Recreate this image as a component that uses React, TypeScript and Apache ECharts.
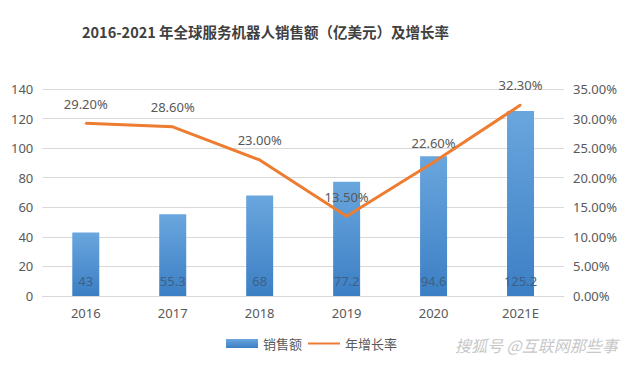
import React, { useEffect, useRef } from "react";
import * as echarts from "echarts";

const categories = ["2016", "2017", "2018", "2019", "2020", "2021E"];
const salesValues = [43, 55.3, 68, 77.2, 94.6, 125.2];
const growthRates = [29.2, 28.6, 23.0, 13.5, 22.6, 32.3];
const titleText = "2016-2021 年全球服务机器人销售额（亿美元）及增长率";
const salesName = "销售额";
const growthName = "年增长率";
const watermark = "搜狐号 @互联网那些事";

export default function App() {
  const ref = useRef<HTMLDivElement>(null);
  useEffect(() => {
    if (!ref.current) return;
    const chart = echarts.init(ref.current, undefined, { renderer: "svg" });
    const font = "'Noto Sans', 'Noto Sans CJK SC', sans-serif";
    chart.setOption({
      animation: false,
      backgroundColor: "#ffffff",
      textStyle: { fontFamily: font },
      title: {
        text: titleText,
        left: 69,
        top: 11,
        textStyle: {
          fontSize: 14.5,
          fontWeight: "bold",
          color: "#404040",
          fontFamily: "'Noto Sans CJK SC', sans-serif",
        },
      },
      legend: {
        bottom: 4,
        left: 213,
        itemGap: 6,
        itemWidth: 32,
        itemHeight: 9,
        textStyle: { color: "#595959", fontSize: 13, fontFamily: "'Noto Sans CJK SC', sans-serif" },
        data: [
          { name: salesName, icon: "rect" },
          { name: growthName, icon: "path://M0,4 L32,4 L32,6 L0,6 Z" },
        ],
      },
      grid: { left: 34, right: 65, top: 81, bottom: 63, containLabel: false },
      xAxis: {
        type: "category",
        data: categories,
        axisLine: { lineStyle: { color: "#d9d9d9" } },
        axisTick: { show: false },
        axisLabel: { color: "#595959", fontSize: 13, margin: 10 },
      },
      yAxis: [
        {
          type: "value",
          min: 0,
          max: 140,
          interval: 20,
          axisLine: { show: false },
          axisTick: { show: false },
          splitLine: { lineStyle: { color: "#d9d9d9" } },
          axisLabel: { color: "#595959", fontSize: 13, margin: 9 },
        },
        {
          type: "value",
          min: 0,
          max: 35,
          interval: 5,
          axisLine: { show: false },
          axisTick: { show: false },
          splitLine: { show: false },
          axisLabel: {
            color: "#595959",
            fontSize: 13,
            margin: 9,
            formatter: (v: number) => v.toFixed(2) + "%",
          },
        },
      ],
      series: [
        {
          name: salesName,
          type: "bar",
          data: salesValues,
          barWidth: 27,
          itemStyle: {
            color: new echarts.graphic.LinearGradient(0, 0, 0, 1, [
              { offset: 0, color: "#6aa6de" },
              { offset: 1, color: "#3b7fc4" },
            ]),
          },
          label: {
            show: true,
            position: "insideBottom",
            distance: 9,
            color: "#3f5f86",
            fontSize: 13,
          },
        },
        {
          name: growthName,
          type: "line",
          yAxisIndex: 1,
          data: growthRates,
          symbol: "circle",
          symbolSize: 2,
          showSymbol: true,
          lineStyle: { color: "#ed7d31", width: 3 },
          itemStyle: { color: "#ed7d31" },
          label: {
            show: true,
            position: "top",
            distance: 12,
            color: "#595959",
            fontSize: 13,
            formatter: (p: any) => Number(p.value).toFixed(2) + "%",
          },
        },
      ],
      graphic: [
        {
          type: "text",
          left: 447,
          top: 329,
          style: {
            text: watermark,
            fill: "#c8c8c8",
            fontSize: 16,
            fontStyle: "italic",
            fontFamily: "'Noto Sans CJK SC', sans-serif",
          },
        },
      ],
    });
    return () => chart.dispose();
  }, []);
  return <div ref={ref} style={{ width: 621, height: 351 }} />;
}
